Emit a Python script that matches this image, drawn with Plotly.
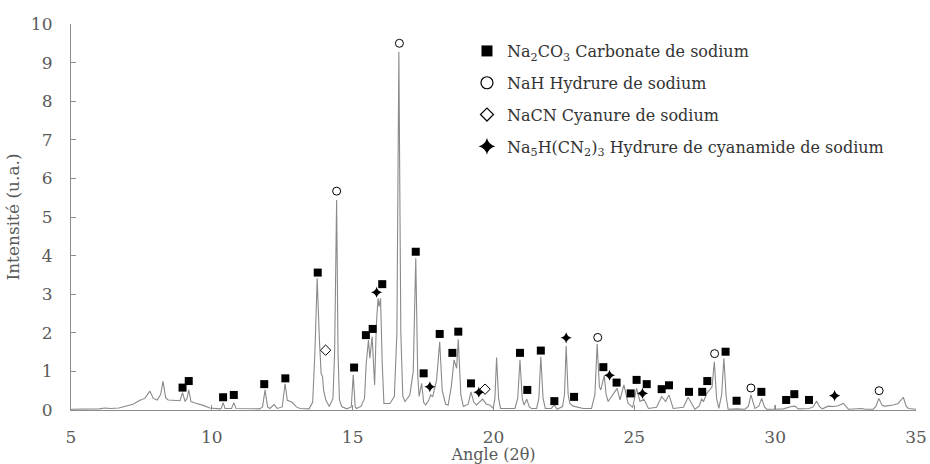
import plotly.graph_objects as go

# Diffractogram polyline (angle 2θ, intensity u.a.)
angle = [5.00, 5.50, 6.00, 6.20, 6.40, 6.70, 7.00, 7.20, 7.45, 7.62, 7.80, 7.92, 8.06, 8.18, 8.27, 8.36, 8.45, 8.70, 8.87, 8.96,
         9.05, 9.12, 9.18, 9.26, 9.40, 9.70, 9.93, 10.29, 10.34, 10.40, 10.47, 10.70, 10.78, 10.86, 11.70, 11.80, 11.89, 11.98, 12.06, 12.21,
         12.32, 12.50, 12.60, 12.68, 12.76, 12.85, 13.00, 13.13, 13.45, 13.58, 13.66, 13.74, 13.82, 13.88, 13.93, 13.97, 14.05, 14.17, 14.30, 14.36,
         14.43, 14.48, 14.53, 14.61, 14.79, 14.95, 15.02, 15.09, 15.14, 15.30, 15.42, 15.48, 15.56, 15.61, 15.69, 15.78, 15.84, 15.90, 15.94, 15.99,
         16.05, 16.11, 16.32, 16.48, 16.57, 16.64, 16.71, 16.78, 16.86, 17.03, 17.15, 17.24, 17.31, 17.36, 17.45, 17.52, 17.59, 17.70, 17.77, 17.84,
         17.98, 18.09, 18.18, 18.30, 18.39, 18.50, 18.60, 18.69, 18.75, 18.84, 18.93, 19.10, 19.20, 19.30, 19.40, 19.61, 19.75, 19.87, 19.99, 20.05,
         20.11, 20.18, 20.25, 20.76, 20.86, 20.94, 21.02, 21.08, 21.18, 21.27, 21.35, 21.53, 21.61, 21.68, 21.76, 21.84, 22.05, 22.16, 22.26, 22.45,
         22.52, 22.58, 22.65, 22.71, 22.83, 23.19, 23.48, 23.60, 23.68, 23.76, 23.81, 23.93, 24.00, 24.07, 24.39, 24.49, 24.63, 24.78, 24.94, 25.08,
         25.20, 25.34, 25.50, 25.79, 25.97, 26.11, 26.23, 26.38, 26.74, 26.91, 27.15, 27.30, 27.39, 27.46, 27.57, 27.76, 27.84, 27.92, 28.00, 28.10,
         28.18, 28.26, 28.33, 28.63, 28.93, 29.05, 29.14, 29.28, 29.42, 29.52, 29.62, 29.70, 29.98, 29.99, 30.00, 30.29, 30.40, 30.58, 30.70, 30.82,
         31.20, 31.35, 31.47, 31.58, 31.68, 31.88, 32.06, 32.24, 32.42, 32.60, 33.07, 33.20, 33.48, 33.58, 33.68, 33.80, 33.89, 34.19, 34.37, 34.55,
         34.65, 34.73, 35.00]
intensity = [0.02, 0.02, 0.03, 0.05, 0.04, 0.05, 0.10, 0.15, 0.25, 0.30, 0.49, 0.30, 0.26, 0.40, 0.74, 0.32, 0.26, 0.25, 0.24, 0.45,
             0.22, 0.30, 0.52, 0.22, 0.18, 0.12, 0.05, 0.03, 0.05, 0.19, 0.04, 0.04, 0.19, 0.04, 0.03, 0.08, 0.52, 0.08, 0.04, 0.14,
             0.04, 0.08, 0.68, 0.25, 0.22, 0.20, 0.08, 0.04, 0.03, 0.20, 1.50, 3.41, 1.80, 0.95, 0.86, 0.50, 0.25, 0.09, 0.30, 1.50,
             5.44, 1.50, 0.26, 0.09, 0.03, 0.08, 0.91, 0.08, 0.04, 0.10, 0.30, 1.20, 1.81, 1.34, 1.90, 0.65, 2.20, 2.89, 2.68, 2.89,
             1.20, 0.17, 0.17, 0.35, 2.00, 9.28, 2.00, 0.35, 0.22, 0.39, 1.00, 3.93, 0.90, 0.35, 0.69, 0.20, 0.13, 0.25, 0.39, 0.34,
             0.78, 1.77, 0.50, 0.15, 0.13, 0.60, 1.30, 1.08, 1.83, 0.40, 0.09, 0.15, 0.47, 0.20, 0.13, 0.28, 0.15, 0.13, 0.04, 0.30,
             1.36, 0.30, 0.04, 0.04, 0.30, 1.30, 0.30, 0.13, 0.28, 0.08, 0.04, 0.04, 0.30, 1.38, 0.30, 0.04, 0.04, 0.13, 0.02, 0.09,
             0.40, 1.66, 0.40, 0.17, 0.10, 0.04, 0.04, 0.40, 1.71, 0.60, 0.52, 0.89, 0.40, 0.22, 0.56, 0.26, 0.65, 0.17, 0.07, 0.56,
             0.22, 0.28, 0.04, 0.07, 0.35, 0.22, 0.39, 0.04, 0.07, 0.33, 0.02, 0.10, 0.28, 0.22, 0.43, 0.60, 1.25, 0.30, 0.04, 0.40,
             1.34, 0.35, 0.02, 0.03, 0.02, 0.10, 0.39, 0.04, 0.10, 0.30, 0.08, 0.02, 0.02, 0.13, 0.02, 0.03, 0.06, 0.09, 0.10, 0.03,
             0.04, 0.08, 0.23, 0.08, 0.03, 0.10, 0.09, 0.11, 0.17, 0.02, 0.04, 0.02, 0.02, 0.10, 0.30, 0.12, 0.10, 0.13, 0.17, 0.33,
             0.10, 0.04, 0.02]

# Phase markers (angle, height)
na2co3_x = [8.96, 9.18, 10.40, 10.78, 11.86, 12.61, 13.76, 15.05, 15.47, 15.71, 16.05, 17.24, 17.52, 18.09, 18.54, 18.75, 19.20,
            20.94, 21.20, 21.68, 22.16, 22.86, 23.90, 24.37, 24.87, 25.08, 25.44, 25.97, 26.23, 26.94, 27.41, 27.59, 28.24, 28.63,
            29.51, 30.39, 30.68, 31.20]
na2co3_y = [0.58, 0.75, 0.33, 0.39, 0.67, 0.82, 3.56, 1.10, 1.94, 2.10, 3.26, 4.10, 0.95, 1.97, 1.48, 2.03, 0.69,
            1.48, 0.52, 1.54, 0.23, 0.34, 1.11, 0.71, 0.43, 0.78, 0.67, 0.54, 0.64, 0.47, 0.47, 0.75, 1.51, 0.24,
            0.47, 0.26, 0.41, 0.26]
nah_x = [14.43, 16.66, 23.70, 27.85, 29.14, 33.69]
nah_y = [5.67, 9.50, 1.88, 1.46, 0.57, 0.50]
nacn_x = [14.04, 19.70]
nacn_y = [1.55, 0.54]
cyan_x = [15.85, 17.74, 19.48, 22.58, 24.12, 25.29, 32.11]
cyan_y = [3.05, 0.60, 0.46, 1.87, 0.90, 0.43, 0.37]

labels = ["Na<sub>2</sub>CO<sub>3</sub> Carbonate de sodium",
          "NaH Hydrure de sodium",
          "NaCN Cyanure de sodium",
          "Na<sub>5</sub>H(CN<sub>2</sub>)<sub>3</sub> Hydrure de cyanamide de sodium"]

FONT = "DejaVu Serif"
TXT = "#5a5a5a"

fig = go.Figure()
fig.add_trace(go.Scatter(x=angle, y=intensity, mode="lines",
                         line=dict(color="#8a8a8a", width=1.1), showlegend=False))

styles = [
    dict(symbol="square", size=8, color="black", line=dict(width=0)),
    dict(symbol="circle-open", size=8, color="black", line=dict(width=1)),
    dict(symbol="diamond-open", size=8, color="black", line=dict(width=1)),
    dict(symbol="star-diamond", size=8, color="black", line=dict(width=0)),
]
legend_styles = [
    dict(symbol="square", size=11, color="black", line=dict(width=0)),
    dict(symbol="circle-open", size=12, color="black", line=dict(width=1.2)),
    dict(symbol="diamond-open", size=10, color="black", line=dict(width=1.2)),
    dict(symbol="star-diamond", size=12, color="black", line=dict(width=0)),
]
series = [(na2co3_x, na2co3_y), (nah_x, nah_y), (nacn_x, nacn_y), (cyan_x, cyan_y)]
for i, ((xs, ys), st, lst, lab) in enumerate(zip(series, styles, legend_styles, labels)):
    fig.add_trace(go.Scatter(x=xs, y=ys, mode="markers", marker=st, showlegend=False))
    fig.add_trace(go.Scatter(x=[None], y=[None], mode="markers", marker=lst, name=lab,
                             legendgroup=f"g{i}", showlegend=True))

fig.update_layout(
    width=930, height=464,
    margin=dict(l=71, r=14, t=24, b=54),
    paper_bgcolor="white", plot_bgcolor="white",
    font=dict(family=FONT, size=16, color=TXT),
    legend=dict(x=0.4686, y=0.974, xanchor="left", yanchor="top",
                bgcolor="rgba(0,0,0,0)", tracegroupgap=8,
                traceorder="grouped",
                font=dict(family=FONT, size=16, color="#333333")),
    xaxis=dict(range=[5, 35], dtick=5, tick0=5, showgrid=False, zeroline=False,
               showline=True, linecolor="#8c8c8c", linewidth=1.2,
               ticks="inside", ticklen=5, tickcolor="#8c8c8c",
               ticklabelstandoff=11, automargin=False,
               title=dict(text="Angle (2θ)", standoff=3, font=dict(size=16, color=TXT)),
               tickfont=dict(size=17, color=TXT)),
    yaxis=dict(range=[0, 10], dtick=1, tick0=0, showgrid=False, zeroline=False,
               showline=True, linecolor="#8c8c8c", linewidth=1.2,
               ticks="inside", ticklen=5, tickcolor="#8c8c8c",
               ticklabelstandoff=14, automargin=False,
               title=dict(text="Intensité (u.a.)", standoff=6, font=dict(size=17, color=TXT)),
               tickfont=dict(size=17, color=TXT)),
)

fig.write_html("out.html", config={"displayModeBar": False},
               post_script="document.body.style.margin='0';")
